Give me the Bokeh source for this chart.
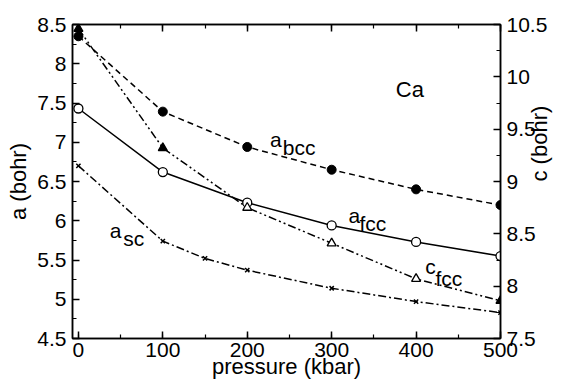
import math
from bokeh.plotting import figure
from bokeh.models import (Range1d, LinearAxis, SingleIntervalTicker, NumeralTickFormatter,
                          CustomJSTickFormatter, Label, ColumnDataSource)
from bokeh.embed import file_html
from bokeh.resources import INLINE

# ---- data ----
pressure = [0, 100, 200, 300, 400, 500]
a_bcc = [8.35, 7.39, 6.94, 6.65, 6.40, 6.20]
a_fcc = [7.43, 6.62, 6.23, 5.94, 5.73, 5.55]
c_fcc = [10.46, 9.32, 8.75, 8.41, 8.07, 7.86]
c_fcc_filled = [True, True, False, False, False, True]
pressure_sc = [0, 100, 150, 200, 300, 400, 500]
a_sc = [6.70, 5.74, 5.52, 5.37, 5.14, 4.97, 4.83]

FONT = "Liberation Sans"

p = figure(width=567, height=382, output_backend="svg", toolbar_location=None,
           x_range=Range1d(-7, 500), y_range=Range1d(4.5, 8.5),
           min_border_left=72, min_border_right=61, min_border_top=24, min_border_bottom=44,
           x_axis_location=None, y_axis_location=None)
p.extra_y_ranges = {"c": Range1d(7.5, 10.5)}
p.xgrid.visible = False
p.ygrid.visible = False
p.outline_line_color = "black"
p.outline_line_width = 1.5
p.background_fill_color = "white"
p.border_fill_color = "white"


def style(ax, labels=True):
    ax.major_tick_in = 7
    ax.major_tick_out = 0
    ax.minor_tick_in = 4
    ax.minor_tick_out = 0
    ax.axis_line_color = "black"
    ax.axis_line_width = 1.5
    ax.major_tick_line_width = 1.5
    ax.minor_tick_line_width = 1.2
    ax.major_label_text_font = FONT
    ax.major_label_text_font_size = "21px"
    ax.major_label_text_color = "black"
    ax.major_label_standoff = 6 if labels else 0
    ax.axis_label_text_font = FONT
    ax.axis_label_text_font_size = "22px"
    ax.axis_label_text_font_style = "normal"
    ax.axis_label_text_color = "black"
    ax.axis_label_standoff = 3
    if labels:
        ax.formatter = NumeralTickFormatter(format="0.[0]")
    else:
        ax.formatter = CustomJSTickFormatter(code="return ''")


xb = LinearAxis(ticker=SingleIntervalTicker(interval=100, num_minor_ticks=2),
                axis_label="pressure (kbar)")
style(xb)
xb.major_label_standoff = 4
xb.axis_label_standoff = -6
p.add_layout(xb, "below")

xt = LinearAxis(ticker=SingleIntervalTicker(interval=100, num_minor_ticks=2))
style(xt, labels=False)
p.add_layout(xt, "above")

yl = LinearAxis(ticker=SingleIntervalTicker(interval=0.5, num_minor_ticks=2),
                axis_label="a (bohr)")
style(yl)
p.add_layout(yl, "left")

yr = LinearAxis(y_range_name="c", ticker=SingleIntervalTicker(interval=0.5, num_minor_ticks=2),
                axis_label="c (bohr)")
style(yr)
yr.major_label_standoff = 6
yr.axis_label_standoff = -11
try:
    yr.axis_label_orientation = math.pi / 2
except Exception:
    pass
p.add_layout(yr, "right")

LW = 1.5
# a_bcc
p.line(pressure, a_bcc, line_color="black", line_width=LW, line_dash="6 4")
p.scatter(pressure, a_bcc, marker="circle", size=9, fill_color="black", line_color="black")
# a_fcc
p.line(pressure, a_fcc, line_color="black", line_width=LW)
p.scatter(pressure, a_fcc, marker="circle", size=9, fill_color="white", line_color="black",
          line_width=1.3)
# c_fcc
p.line(pressure, c_fcc, line_color="black", line_width=LW, line_dash="8 3 2 3 2 3",
       y_range_name="c")
src_c = ColumnDataSource(dict(x=pressure, y=c_fcc,
                              fill=["black" if f else "white" for f in c_fcc_filled]))
p.scatter("x", "y", source=src_c, marker="triangle", size=9, fill_color="fill",
          line_color="black", line_width=1.3, y_range_name="c")
# a_sc
p.line(pressure_sc, a_sc, line_color="black", line_width=LW, line_dash="8 3 2 3")
p.scatter(pressure_sc, a_sc, marker="x", size=6, line_color="black", line_width=1.5)


def lab(x, y, t, size="21px"):
    p.add_layout(Label(x=x, y=y, text=t, text_font=FONT, text_font_size=size,
                       text_color="black", text_align="left", text_baseline="middle"))


lab(227, 7.04, "a")
lab(242, 6.93, "bcc")
lab(376, 7.67, "Ca", size="22px")
lab(320, 6.07, "a")
lab(333, 5.96, "fcc")
lab(37, 5.88, "a")
lab(53, 5.78, "sc")
lab(411, 5.42, "c")
lab(423, 5.27, "fcc")

open("out.html", "w").write(file_html(p, INLINE))
